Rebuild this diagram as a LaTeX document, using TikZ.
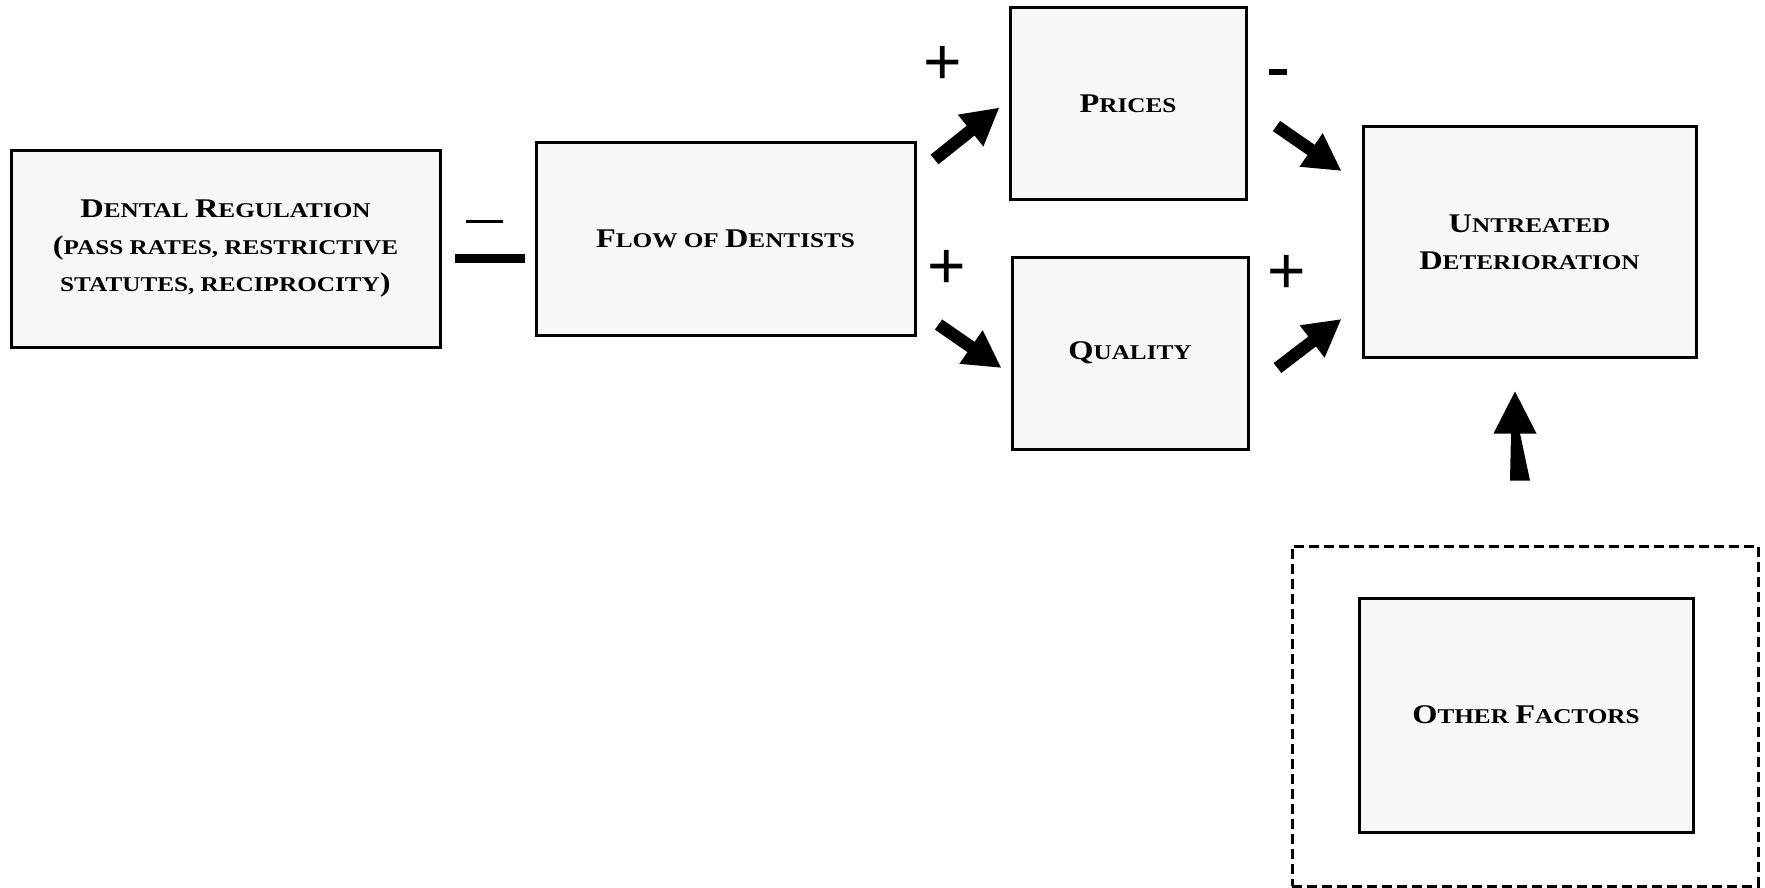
\documentclass[tikz,border=0pt]{standalone}
\usepackage{fontspec}
\usetikzlibrary{arrows.meta,calc}
\newfontfamily\lbl{Liberation Serif}[FakeStretch=1.2]
\newfontfamily\sgn{Liberation Sans}
\newcommand{\BC}[1]{{\fontsize{27}{32}\selectfont #1}}
\tikzset{
  box/.style={draw, line width=3pt, fill=black!3, inner sep=0pt, align=center,
    font=\lbl\bfseries\fontsize{21}{37}\selectfont},
  bigarrow/.style={line width=12.5pt, -{Triangle[length=37pt,width=38pt]}},
  sign/.style={inner sep=0pt, font=\sgn\fontsize{66}{66}\selectfont},
  bar/.style={line width=9pt}
}
\begin{document}
\begin{tikzpicture}[x=1pt,y=-1pt]
\useasboundingbox[fill=white] (0,0) rectangle (1765,888);
\node[box, minimum width=429pt, minimum height=196pt] (dental) at (225.5,249)
  {\BC{D}ENTAL \BC{R}EGULATION\\\BC{(}PASS RATES, RESTRICTIVE\\STATUTES, RECIPROCITY\BC{)}};
\node[box, minimum width=379pt, minimum height=192pt] (flow) at (725.5,239)
  {\BC{F}LOW OF \BC{D}ENTISTS};
\node[box, minimum width=236pt, minimum height=191pt] (prices) at (1128,103.5)
  {\BC{P}RICES};
\node[box, minimum width=236pt, minimum height=192pt] (quality) at (1130,353)
  {\BC{Q}UALITY};
\node[box, minimum width=333pt, minimum height=230pt] (untreated) at (1529.5,242)
  {\BC{U}NTREATED\\\BC{D}ETERIORATION};
\node[draw, dash pattern=on 10pt off 5pt, line width=3pt, minimum width=466pt, minimum height=340pt] (outer) at (1525,716) {};
\node[box, minimum width=334pt, minimum height=234pt] (other) at (1526,715)
  {\BC{O}THER \BC{F}ACTORS};
% connectors
\coordinate (b1) at ([shift={(13,9.5)}]dental.east);
\draw[bar, shorten >=10pt] (b1) -- (b1 -| flow.west);
\draw[bigarrow] ([shift={(18,18)}]flow.north east) -- ([shift={(-9,4)}]prices.west);
\draw[bigarrow] ([shift={(22,-12)}]flow.south east) -- ([shift={(-9,15)}]quality.west);
\draw[bigarrow] ([shift={(29,22.5)}]prices.east) -- ([shift={(-20,-71)}]untreated.west);
\draw[bigarrow] ([shift={(28,15)}]quality.east) -- ([shift={(-20,77)}]untreated.west);
\coordinate (us) at ([shift={(-5,-64)}]outer.north);
\coordinate (ue) at ([shift={(-14.5,33)}]untreated.south);
\fill ($(us)+(-10,0)$) -- ($(us)+(10,0)$) -- ($(ue)+(5,42)$) -- ($(ue)+(21.5,42)$)
  -- (ue) -- ($(ue)+(-21.5,42)$) -- ($(ue)+(-4,42)$) -- cycle;
% signs
\node[inner sep=0pt] (s0) at (484.5,221) {\rule{37pt}{3pt}};
\node[sign] (s1) at (943,65) {+};
\node[inner sep=0pt] (s2) at (1278,72) {\rule{18pt}{6pt}};
\node[sign] (s3) at (947,269) {+};
\node[sign] (s4) at (1287,274) {+};
\end{tikzpicture}
\end{document}
